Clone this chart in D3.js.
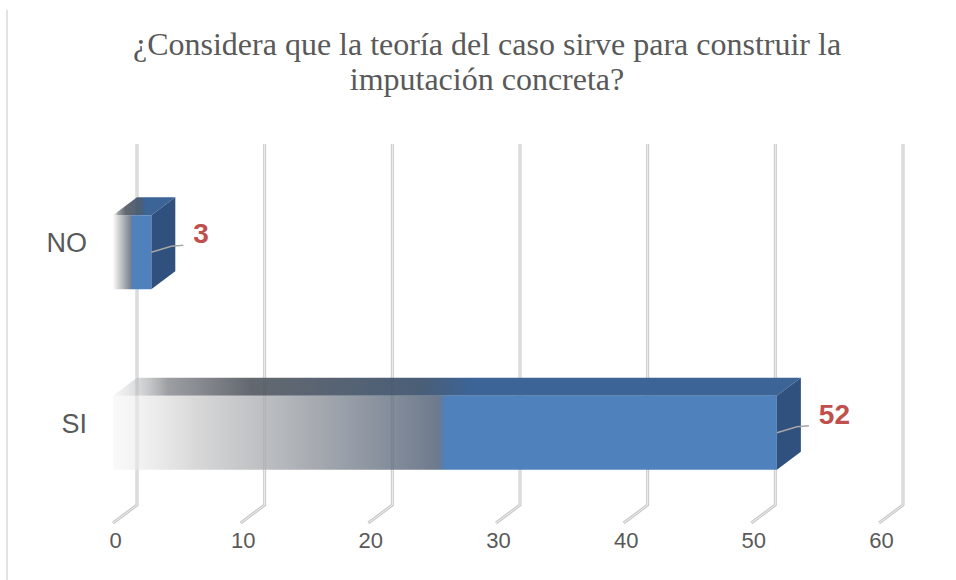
<!DOCTYPE html>
<html>
<head>
<meta charset="utf-8">
<script src="https://cdn.jsdelivr.net/npm/d3@7"></script>
<style>
  body { margin: 0; background: #ffffff; }
  svg { display: block; }
</style>
</head>
<body>
<div id="chart"></div>
<script>
// data
const titleLines = [
  "¿Considera que la teoría del caso sirve para construir la",
  "imputación concreta?"
];
const categories = ["NO", "SI"];
const values = [3, 52];
const xTicks = [0, 10, 20, 30, 40, 50, 60];

(function () {
  const width = 956;
  const height = 580;
  const depth = { dx: 24, dy: -18 };

  const data = categories.map((c, i) => ({ cat: c, value: values[i] }));

  const svg = d3
    .select("#chart")
    .append("svg")
    .attr("width", width)
    .attr("height", height)
    .attr("viewBox", [0, 0, width, height]);

  const defs = svg.append("defs");

  // front face fade: whitish -> grey -> blue at half the bar
  const gFront = defs.append("linearGradient").attr("id", "frontGrad");
  [
    [0, "#f4f4f4", 0.5],
    [0.12, "#d0d0d0", 0.8],
    [0.3, "#92979e", 0.8],
    [0.49, "#4e5d74", 0.82],
    [0.5, "#4f81bd", 1],
    [1, "#4f81bd", 1]
  ].forEach((s) =>
    gFront.append("stop").attr("offset", s[0]).attr("stop-color", s[1]).attr("stop-opacity", s[2])
  );

  const gTop = defs.append("linearGradient").attr("id", "topGrad");
  [
    [0, "#e0e0e0", 0.3],
    [0.08, "#8a8d92", 0.85],
    [0.2, "#565b63", 0.92],
    [0.45, "#405670", 0.95],
    [0.52, "#3c6497", 1],
    [1, "#3c6497", 1]
  ].forEach((s) =>
    gTop.append("stop").attr("offset", s[0]).attr("stop-color", s[1]).attr("stop-opacity", s[2])
  );

  // scales (front plane)
  const x = d3.scaleLinear().domain([0, 60]).range([113, 879]);
  const y = d3
    .scaleBand()
    .domain(categories)
    .range([162, 523])
    .paddingInner(0.59)
    .paddingOuter(0.295);

  const yTop = y.range()[0] + depth.dy;
  const yBottom = y.range()[1] + depth.dy;

  // chart border on the left
  svg.append("line")
    .attr("x1", 7).attr("x2", 7)
    .attr("y1", 10).attr("y2", height)
    .attr("stroke", "#d9d9d9")
    .attr("stroke-width", 1.5);

  // title
  svg.append("g")
    .selectAll("text")
    .data(titleLines)
    .enter()
    .append("text")
    .attr("x", 487)
    .attr("y", (d, i) => 55 + i * 35)
    .attr("text-anchor", "middle")
    .attr("font-family", "'Liberation Serif', 'Times New Roman', serif")
    .attr("font-size", "32px")
    .attr("fill", "#595959")
    .text((d) => d);

  // grid on the back wall + floor ticks (double lines)
  const grid = svg.append("g").attr("class", "grid");
  const gridPath = (t) => {
    const xb = x(t) + depth.dx;
    return `M${xb},${yTop}L${xb},${yBottom}L${x(t)},${y.range()[1]}`;
  };
  grid.selectAll("path.outer")
    .data(xTicks)
    .enter()
    .append("path")
    .attr("class", "outer")
    .attr("d", gridPath)
    .attr("fill", "none")
    .attr("stroke", "#c8c8c8")
    .attr("stroke-width", 3);
  grid.selectAll("path.inner")
    .data(xTicks)
    .enter()
    .append("path")
    .attr("class", "inner")
    .attr("d", gridPath)
    .attr("fill", "none")
    .attr("stroke", "#f0f0f0")
    .attr("stroke-width", 1);

  // x axis labels
  svg.append("g")
    .attr("transform", `translate(2,${y.range()[1] + 1})`)
    .call(d3.axisBottom(x).tickValues(xTicks).tickSize(0).tickPadding(8))
    .call((g) => g.select(".domain").remove())
    .call((g) =>
      g.selectAll(".tick text")
        .attr("font-family", "'Liberation Sans', Arial, sans-serif")
        .attr("font-size", "22px")
        .attr("fill", "#595959")
    );

  // category labels
  svg.append("g")
    .selectAll("text")
    .data(categories)
    .enter()
    .append("text")
    .attr("x", 87)
    .attr("y", (d) => y(d) + y.bandwidth() / 2)
    .attr("text-anchor", "end")
    .attr("font-family", "'Liberation Sans', Arial, sans-serif")
    .attr("font-size", "27px")
    .attr("fill", "#595959")
    .text((d) => d);

  // 3D bars
  const bars = svg.append("g")
    .selectAll("g")
    .data(data)
    .enter()
    .append("g");

  bars.append("path")
    .attr("d", (d) => {
      const x0 = x(0), x1 = x(d.value), y0 = y(d.cat);
      return `M${x0},${y0}L${x1},${y0}L${x1 + depth.dx},${y0 + depth.dy}L${x0 + depth.dx},${y0 + depth.dy}Z`;
    })
    .attr("fill", "url(#topGrad)");

  bars.append("path")
    .attr("d", (d) => {
      const x1 = x(d.value), y0 = y(d.cat), h = y.bandwidth();
      return `M${x1},${y0}L${x1 + depth.dx},${y0 + depth.dy}L${x1 + depth.dx},${y0 + h + depth.dy}L${x1},${y0 + h}Z`;
    })
    .attr("fill", "#30517e");

  bars.append("rect")
    .attr("x", x(0))
    .attr("y", (d) => y(d.cat))
    .attr("width", (d) => x(d.value) - x(0))
    .attr("height", y.bandwidth())
    .attr("fill", "url(#frontGrad)");

  // leader lines and value labels
  bars.append("polyline")
    .attr("points", (d) => {
      const x1 = x(d.value), yc = y(d.cat) + y.bandwidth() / 2;
      return `${x1},${yc} ${x1 + 20},${yc - 6} ${x1 + 32},${yc - 7}`;
    })
    .attr("fill", "none")
    .attr("stroke", "#a6a6a6")
    .attr("stroke-width", 1.5);

  bars.append("text")
    .attr("x", (d) => x(d.value) + 42)
    .attr("y", (d) => y(d.cat) + y.bandwidth() / 2 - 9)
    .attr("font-family", "'Liberation Sans', Arial, sans-serif")
    .attr("font-size", "28px")
    .attr("font-weight", "bold")
    .attr("fill", "#c0504d")
    .text((d) => d.value);
})();
</script>
</body>
</html>
